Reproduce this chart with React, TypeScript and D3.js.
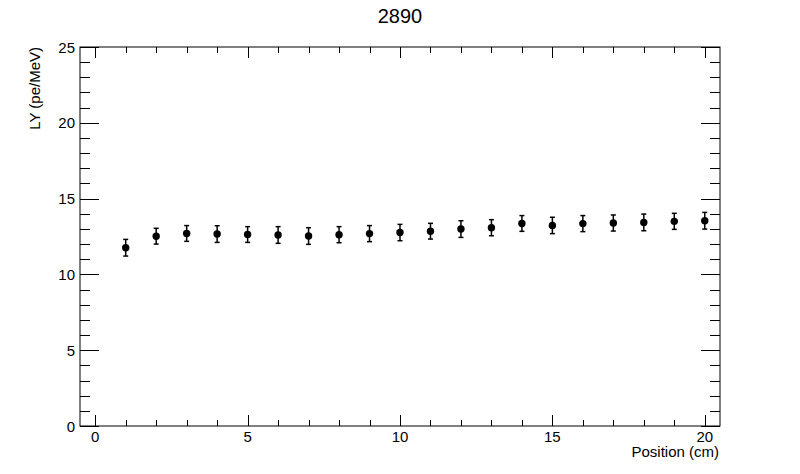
import React from 'react';
import * as d3 from 'd3';

const positions = [1, 2, 3, 4, 5, 6, 7, 8, 9, 10, 11, 12, 13, 14, 15, 16, 17, 18, 19, 20];
const lyValues = [11.76, 12.52, 12.7, 12.66, 12.63, 12.6, 12.53, 12.62, 12.69, 12.76,
  12.85, 12.99, 13.08, 13.36, 13.23, 13.35, 13.39, 13.43, 13.5, 13.54];
const lyErrors = [0.55, 0.52, 0.52, 0.55, 0.52, 0.55, 0.55, 0.53, 0.53, 0.54,
  0.52, 0.55, 0.53, 0.52, 0.54, 0.53, 0.53, 0.55, 0.53, 0.55];
const xMajorTicks = [0, 5, 10, 15, 20];
const yMajorTicks = [0, 5, 10, 15, 20, 25];

const width = 800;
const height = 474;
const frame = { left: 80, right: 720, top: 47, bottom: 426 };
const font = '"Liberation Sans", Arial, Helvetica, sans-serif';

export default function App() {
  const x = d3.scaleLinear().domain([-0.5, 20.5]).range([frame.left, frame.right]);
  const y = d3.scaleLinear().domain([0, 25]).range([frame.bottom, frame.top]);

  const xMinor = d3.range(0, 21, 1);
  const yMinor = d3.range(0, 26, 1);

  return (
    <svg
      width={width}
      height={height}
      style={{ position: 'absolute', left: 0, top: 0, background: '#fff' }}
      fontFamily={font}
    >
      <rect x={0} y={0} width={width} height={height} fill="#fff" />
      <text x={400} y={23} fontSize={20} textAnchor="middle">2890</text>

      {/* frame */}
      <rect
        x={frame.left}
        y={frame.top}
        width={frame.right - frame.left}
        height={frame.bottom - frame.top}
        fill="none"
        stroke="#000"
        strokeWidth={1}
      />

      {/* x ticks, bottom and top */}
      {xMinor.map((v) => {
        const len = xMajorTicks.includes(v) ? 11 : 6;
        const px = Math.round(x(v)) + 0.5;
        return (
          <g key={`xt${v}`} stroke="#000" strokeWidth={1}>
            <line x1={px} x2={px} y1={frame.bottom} y2={frame.bottom - len} />
            <line x1={px} x2={px} y1={frame.top} y2={frame.top + len} />
          </g>
        );
      })}
      {xMajorTicks.map((v) => (
        <text key={`xl${v}`} x={x(v)} y={442} fontSize={15} textAnchor="middle">{v}</text>
      ))}

      {/* y ticks, left and right */}
      {yMinor.map((v) => {
        const len = yMajorTicks.includes(v) ? 19 : 10;
        const py = Math.round(y(v)) + 0.5;
        return (
          <g key={`yt${v}`} stroke="#000" strokeWidth={1}>
            <line x1={frame.left} x2={frame.left + len} y1={py} y2={py} />
            <line x1={frame.right} x2={frame.right - len} y1={py} y2={py} />
          </g>
        );
      })}
      {yMajorTicks.map((v) => (
        <text key={`yl${v}`} x={75} y={y(v)} fontSize={15} textAnchor="end" dominantBaseline="central">{v}</text>
      ))}

      <text x={719} y={457} fontSize={15} textAnchor="end">Position (cm)</text>
      <text transform="translate(39.5,47) rotate(-90)" fontSize={15} textAnchor="end">LY (pe/MeV)</text>

      {/* data points with error bars */}
      {positions.map((p, i) => {
        const cx = x(p);
        const y1 = y(lyValues[i] + lyErrors[i]);
        const y0 = y(lyValues[i] - lyErrors[i]);
        return (
          <g key={`pt${p}`} stroke="#000" strokeWidth={1.5}>
            <line x1={cx} x2={cx} y1={y1} y2={y0} />
            <line x1={cx - 2.5} x2={cx + 2.5} y1={y1} y2={y1} />
            <line x1={cx - 2.5} x2={cx + 2.5} y1={y0} y2={y0} />
            <circle cx={cx} cy={y(lyValues[i])} r={3.7} fill="#000" stroke="none" />
          </g>
        );
      })}
    </svg>
  );
}
